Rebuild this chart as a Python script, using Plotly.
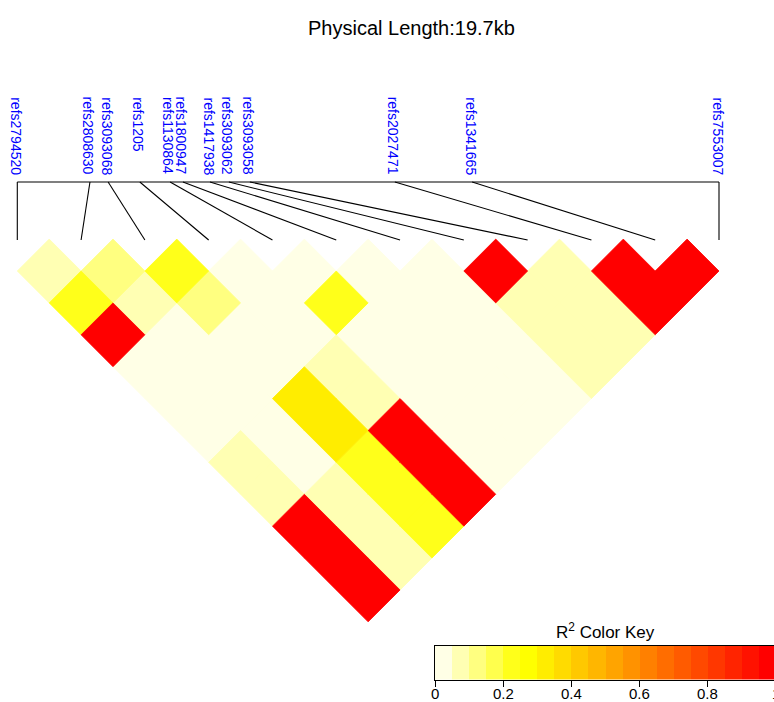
import plotly.graph_objects as go

# ---------------- data ----------------
snp_names = ["refs2794520", "refs2808630", "refs3093068", "refs1205",
             "refs1130864", "refs1800947", "refs1417938", "refs3093062",
             "refs3093058", "refs2027471", "refs1341665", "refs7553007"]
positions_kb = [0.00, 2.04, 2.55, 3.44, 4.29, 4.65, 5.41, 5.94, 6.53, 10.60, 12.77, 19.70]

# upper-triangle R^2 values: row i holds pairs (i, j) for j = i+1 .. 11
r2_rows = [
    [0.07, 0.22, 0.97, 0.02, 0.02, 0.02, 0.07, 0.07, 0.97, 0.97, 0.97],
    [0.12, 0.07, 0.02, 0.02, 0.02, 0.02, 0.02, 0.07, 0.07, 0.07],
    [0.22, 0.12, 0.02, 0.02, 0.32, 0.32, 0.22, 0.22, 0.22],
    [0.02, 0.02, 0.02, 0.07, 0.07, 0.97, 0.97, 0.97],
    [0.02, 0.22, 0.02, 0.02, 0.02, 0.02, 0.02],
    [0.02, 0.02, 0.02, 0.02, 0.02, 0.02],
    [0.02, 0.02, 0.02, 0.02, 0.02],
    [0.97, 0.07, 0.07, 0.07],
    [0.07, 0.07, 0.07],
    [0.97, 0.97],
    [0.97],
]
key_tick_vals = [0, 0.2, 0.4, 0.6, 0.8, 1.0]
key_tick_text = ["0", "0.2", "0.4", "0.6", "0.8", "1"]
title_text = "Physical Length:19.7kb"

# reversed heat.colors(20)
palette = ["#FFFFE6", "#FFFFB3", "#FFFF80", "#FFFF4D", "#FFFF1A",
           "#FFFF00", "#FFED00", "#FFDB00", "#FFC800", "#FFB600",
           "#FFA400", "#FF9200", "#FF8000", "#FF6D00", "#FF5B00",
           "#FF4900", "#FF3700", "#FF2400", "#FF1200", "#FF0000"]
nbins = len(palette)

# ---------------- layout geometry (pixels of the 774x702 page) ----------------
W, H = 774, 702
PX_L, PX_R = 17.3, 719.0       # triangle left / right corners
PY_ROW0 = 271.0                # centre line of top row of diamonds
n = len(snp_names)
span = 2 * (n - 1)
u = (PX_R - PX_L) / span       # pixels per data unit

x_range = [-PX_L / u, (W - PX_L) / u]
y_range = [(H - PY_ROW0) / u, -PY_ROW0 / u]
y_map = (182 - PY_ROW0) / u
y_seg_end = (240 - PY_ROW0) / u
y_label_top = (95 - PY_ROW0) / u

fig = go.Figure()

# ---------------- LD diamonds ----------------
groups = {}
for i, row in enumerate(r2_rows):
    for k, v in enumerate(row):
        j = i + 1 + k
        b = min(int(v * nbins), nbins - 1)
        cx, cy = i + j, j - i - 1
        xs, ys = groups.setdefault(b, ([], []))
        xs += [cx, cx + 1, cx, cx - 1, cx, None]
        ys += [cy - 1, cy, cy + 1, cy, cy - 1, None]

for b in sorted(groups):
    xs, ys = groups[b]
    fig.add_trace(go.Scatter(x=xs, y=ys, mode="lines", fill="toself",
                             fillcolor=palette[b],
                             line=dict(color=palette[b], width=0.8),
                             hoverinfo="skip", showlegend=False,
                             xaxis="x", yaxis="y"))

# ---------------- genetic map line and segments ----------------
map_x = [(p - positions_kb[0]) / (positions_kb[-1] - positions_kb[0]) * span
         for p in positions_kb]
seg_x, seg_y = [map_x[0], map_x[-1], None], [y_map, y_map, None]
for k, mx in enumerate(map_x):
    seg_x += [mx, 2 * k, None]
    seg_y += [y_map, y_seg_end, None]
fig.add_trace(go.Scatter(x=seg_x, y=seg_y, mode="lines",
                         line=dict(color="black", width=1.1),
                         hoverinfo="skip", showlegend=False,
                         xaxis="x", yaxis="y"))

annotations = []
for name, mx in zip(snp_names, map_x):
    annotations.append(dict(x=mx - 1.5 / u, y=y_label_top, xref="x", yref="y",
                            text=name, textangle=90, showarrow=False,
                            xanchor="center", yanchor="top",
                            font=dict(family="Liberation Sans, Arial", size=14,
                                      color="#0000FF")))

# ---------------- colour key ----------------
bin_centres = [(b + 0.5) / nbins for b in range(nbins)]
cscale = []
for b, c in enumerate(palette):
    cscale.append([b / nbins, c])
    cscale.append([(b + 1) / nbins, c])
fig.add_trace(go.Heatmap(z=[bin_centres], x=bin_centres, y=[0],
                         colorscale=cscale, zmin=0, zmax=1, showscale=False,
                         hoverinfo="skip", xaxis="x2", yaxis="y2"))

KEY_L, KEY_R1 = 435.0, 776.0   # pixel position of 0 and 1 on the key
KEY_T, KEY_B = 646.0, 679.5
key_font = dict(family="Liberation Sans, Arial", size=15, color="black")
for tv, tt in zip(key_tick_vals, key_tick_text):
    annotations.append(dict(x=(KEY_L + tv * (KEY_R1 - KEY_L)) / W, y=(H - 683) / H,
                            xref="paper", yref="paper", text=tt, showarrow=False,
                            xanchor="center", yanchor="top", font=key_font))
annotations.append(dict(x=605 / W, y=1 - 631 / H, xref="paper", yref="paper",
                        text="R<sup>2</sup> Color Key", showarrow=False,
                        xanchor="center", yanchor="middle",
                        font=dict(family="Liberation Sans, Arial", size=17, color="black")))
annotations.append(dict(x=411 / W, y=1 - 28 / H, xref="paper", yref="paper",
                        text=title_text, showarrow=False,
                        xanchor="center", yanchor="middle",
                        font=dict(family="Liberation Sans, Arial", size=20, color="black")))

fig.update_layout(
    width=W, height=H,
    margin=dict(l=0, r=0, t=0, b=0, autoexpand=False),
    paper_bgcolor="white", plot_bgcolor="white",
    showlegend=False,
    xaxis=dict(domain=[0, 1], range=x_range, visible=False, fixedrange=True,
               automargin=False),
    yaxis=dict(domain=[0, 1], range=y_range, visible=False, fixedrange=True,
               automargin=False),
    xaxis2=dict(domain=[KEY_L / W, 1], anchor="y2", automargin=False,
                range=[0, (W - KEY_L) / (KEY_R1 - KEY_L)],
                tickvals=key_tick_vals[:-1], showticklabels=False,
                ticks="outside", ticklen=6, tickcolor="black", tickwidth=1.2,
                showline=True, mirror=True, linecolor="black", linewidth=1.2,
                showgrid=False, zeroline=False, fixedrange=True),
    yaxis2=dict(domain=[(H - KEY_B) / H, (H - KEY_T) / H], anchor="x2",
                automargin=False, fixedrange=True,
                range=[-0.5, 0.5], showticklabels=False, ticks="",
                showline=True, mirror=True, linecolor="black", linewidth=1.2,
                showgrid=False, zeroline=False),
    annotations=annotations,
)

fig.write_html("out.html", config={"displayModeBar": False},
               post_script="document.body.style.margin='0px';"
                           "document.body.style.overflow='hidden';")
